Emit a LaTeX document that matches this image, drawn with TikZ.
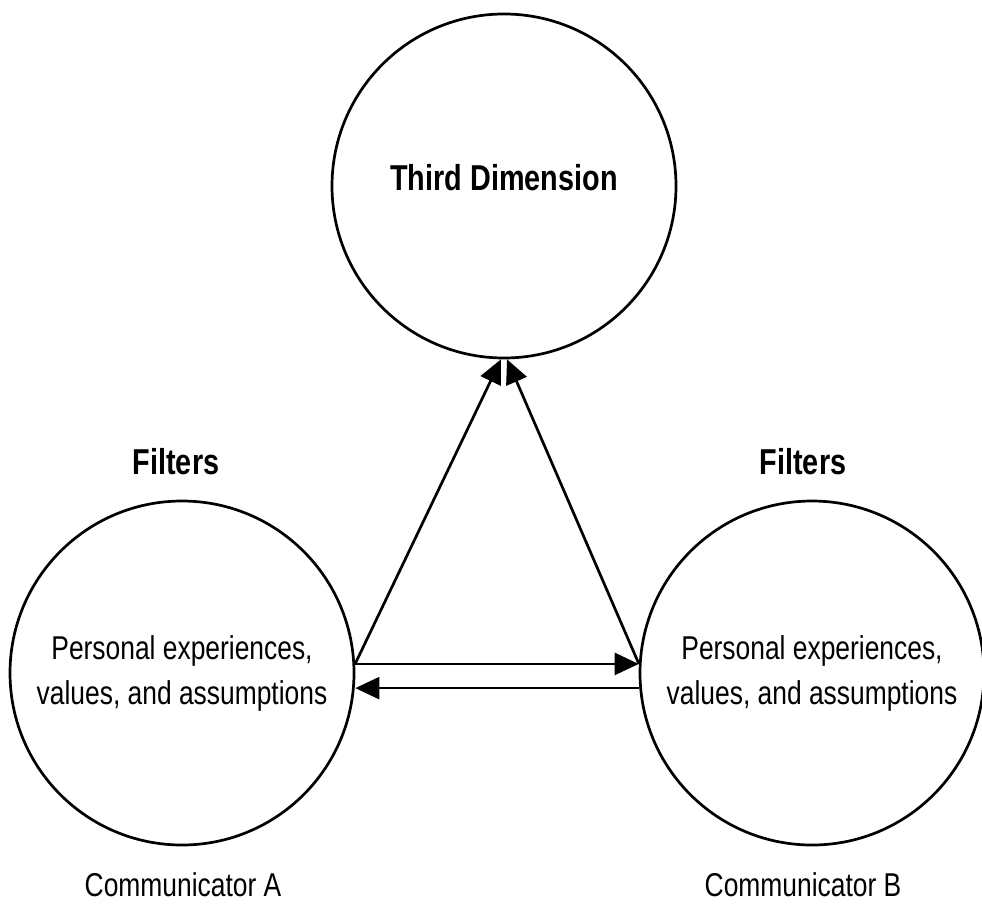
\documentclass[tikz,border=0pt]{standalone}
\usepackage{fontspec}
\setmainfont{Liberation Sans}[FakeStretch=0.8]
\usetikzlibrary{arrows.meta}

\begin{document}
\begin{tikzpicture}[x=1pt,y=-1pt]

\tikzset{Ring/.style={draw,circle,line width=2.7pt,minimum size=344pt,inner sep=0pt,align=center,
    font=\fontsize{33}{45}\selectfont},
  Head/.style={font=\fontsize{36}{40}\selectfont\bfseries},
  Name/.style={font=\fontsize{33}{40}\selectfont},
  Link/.style={line width=2.7pt,-{Triangle[length=24pt,width=22pt]}}}

  \useasboundingbox (0,0) rectangle (982,911);

  \node[Ring] (td) at (504, 186) {\fontsize{36}{40}\selectfont\bfseries Third Dimension\\[-28pt]};
  \node[Ring] (pA) at (182, 673) {Personal experiences,\\values, and assumptions};
  \node[Ring] (pB) at (812, 673) {Personal experiences,\\values, and assumptions};

  \node[Head] (fA) at (176, 462) {Filters};
  \node[Head] (fB) at (803, 462) {Filters};

  \node[Name] (cA) at (183, 885) {Communicator A};
  \node[Name] (cB) at (803, 885) {Communicator B};

  \draw[Link] (pA.3) -- (td.-91);
  \draw[Link] (pB.177) -- (td.-89);
  \draw[Link] (pA.3) -- (pA.3 -| pB.west);
  \draw[Link] (pB.185) -- (pB.185 -| pA.east);

\end{tikzpicture}
\end{document}
